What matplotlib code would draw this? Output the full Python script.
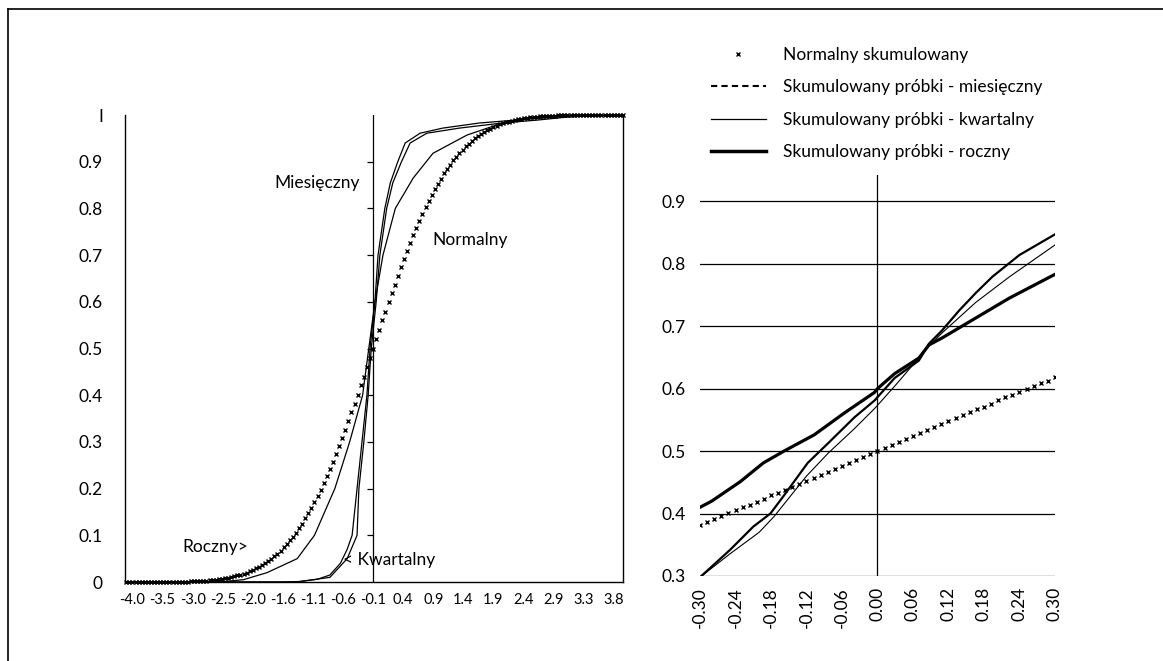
import numpy as np
import matplotlib
matplotlib.use("Agg")
from matplotlib import pyplot as plt
from matplotlib.lines import Line2D
from matplotlib.markers import TICKLEFT

plt.rcParams['font.family'] = ['Lato', 'DejaVu Sans']

# ---- left panel: cumulative distributions over the full range ----
left_x = np.round(np.arange(-4.1, 3.96, 0.05), 2)
left_normal = [
    0.000, 0.000, 0.000, 0.000, 0.000, 0.000, 0.000, 0.000, 0.000, 0.000,
    0.000, 0.000, 0.000, 0.000, 0.000, 0.001, 0.001, 0.001, 0.001, 0.001,
    0.001, 0.002, 0.002, 0.002, 0.003, 0.003, 0.003, 0.004, 0.005, 0.005,
    0.006, 0.007, 0.008, 0.009, 0.011, 0.012, 0.014, 0.016, 0.018, 0.020,
    0.023, 0.026, 0.029, 0.032, 0.036, 0.040, 0.045, 0.049, 0.055, 0.061,
    0.067, 0.074, 0.081, 0.089, 0.097, 0.106, 0.115, 0.125, 0.136, 0.147,
    0.159, 0.171, 0.184, 0.198, 0.212, 0.227, 0.242, 0.258, 0.274, 0.291,
    0.309, 0.326, 0.345, 0.363, 0.382, 0.401, 0.421, 0.440, 0.460, 0.480,
    0.500,
    0.520, 0.540, 0.560, 0.579, 0.599, 0.618, 0.637, 0.655, 0.674, 0.691,
    0.709, 0.726, 0.742, 0.758, 0.773, 0.788, 0.802, 0.816, 0.829, 0.841,
    0.853, 0.864, 0.875, 0.885, 0.894, 0.903, 0.911, 0.919, 0.926, 0.933,
    0.939, 0.945, 0.951, 0.955, 0.960, 0.964, 0.968, 0.971, 0.974, 0.977,
    0.980, 0.982, 0.984, 0.986, 0.988, 0.989, 0.991, 0.992, 0.993, 0.994,
    0.995, 0.995, 0.996, 0.997, 0.997, 0.997, 0.998, 0.998, 0.998, 0.999,
    0.999, 0.999, 0.999, 0.999, 0.999, 1.000, 1.000, 1.000, 1.000, 1.000,
    1.000, 1.000, 1.000, 1.000, 1.000, 1.000, 1.000, 1.000, 1.000, 1.000,
    1.000,
]
monthly_x = [-4.1, -1.6, -1.3, -1.0, -0.8, -0.63, -0.52, -0.44, -0.36, -0.28, -0.2, -0.15,
             -0.07, -0.02, 0.09, 0.18, 0.3, 0.42, 0.66, 1.03, 1.63, 2.2, 2.8, 3.3, 3.95]
monthly_y = [0.0, 0.0, 0.001, 0.006, 0.015, 0.04, 0.07, 0.1, 0.2, 0.3, 0.4, 0.5,
             0.6, 0.7, 0.8, 0.855, 0.9, 0.94, 0.961, 0.972, 0.983, 0.989, 0.995, 1.0, 1.0]
quarterly_x = [-4.1, -1.5, -1.28, -0.8, -0.52, -0.36, -0.33, -0.25, -0.18, -0.13, -0.05,
               0.01, 0.12, 0.22, 0.36, 0.5, 0.77, 1.3, 2.0, 2.55, 3.0, 3.6, 3.95]
quarterly_y = [0.0, 0.0, 0.001, 0.01, 0.05, 0.1, 0.2, 0.3, 0.4, 0.5, 0.6,
               0.7, 0.8, 0.855, 0.9, 0.94, 0.961, 0.972, 0.983, 0.989, 0.995, 1.0, 1.0]
yearly_x = [-4.1, -2.6, -2.2, -1.82, -1.33, -1.05, -0.72, -0.48, -0.27, -0.17, -0.1, -0.07,
            0.06, 0.26, 0.55, 0.87, 1.42, 2.0, 2.5, 2.9, 3.95]
yearly_y = [0.0, 0.0, 0.005, 0.02, 0.05, 0.1, 0.2, 0.3, 0.4, 0.5, 0.57, 0.6,
            0.7, 0.8, 0.865, 0.918, 0.957, 0.983, 0.995, 1.0, 1.0]
left_tick_labels = ['-4.0', '-3.5', '-3.0', '-2.5', '-2.0', '-1.6', '-1.1', '-0.6', '-0.1',
                    '0.4', '0.9', '1.4', '1.9', '2.4', '2.9', '3.3', '3.8']
left_ylabels = ['0', '0.1', '0.2', '0.3', '0.4', '0.5', '0.6', '0.7', '0.8', '0.9', 'I']

# ---- right panel: zoom around zero ----
right_x = np.round(np.arange(-0.3, 0.3001, 0.012), 3)
right_normal = [
    0.382, 0.387, 0.391, 0.396, 0.401, 0.405, 0.410, 0.414, 0.419, 0.424,
    0.429, 0.433, 0.438, 0.443, 0.447, 0.452, 0.457, 0.462, 0.467, 0.471,
    0.476, 0.481, 0.486, 0.490, 0.495, 0.500,
    0.505, 0.510, 0.514, 0.519, 0.524, 0.529, 0.533, 0.538, 0.543, 0.548,
    0.553, 0.557, 0.562, 0.567, 0.571, 0.576, 0.581, 0.586, 0.590, 0.595,
    0.599, 0.604, 0.609, 0.613, 0.618,
]
r_monthly_x = [-0.3, -0.249, -0.21, -0.181, -0.158, -0.118, -0.083, -0.039, -0.005,
               0.029, 0.07, 0.087, 0.109, 0.138, 0.166, 0.194, 0.24, 0.3]
r_monthly_y = [0.298, 0.342, 0.379, 0.40, 0.429, 0.481, 0.513, 0.554, 0.581,
               0.617, 0.645, 0.672, 0.693, 0.725, 0.753, 0.779, 0.814, 0.847]
r_quarterly_x = [-0.3, -0.25, -0.2, -0.175, -0.12, -0.083, -0.04, -0.005, 0.03, 0.087,
                 0.109, 0.166, 0.223, 0.3]
r_quarterly_y = [0.298, 0.335, 0.37, 0.395, 0.46, 0.497, 0.535, 0.568, 0.605, 0.668,
                 0.689, 0.738, 0.779, 0.83]
r_yearly_x = [-0.3, -0.28, -0.232, -0.193, -0.158, -0.107, -0.056, -0.005, 0.0, 0.029,
              0.07, 0.087, 0.109, 0.166, 0.223, 0.3]
r_yearly_y = [0.41, 0.42, 0.451, 0.481, 0.50, 0.526, 0.561, 0.594, 0.60, 0.624,
              0.649, 0.67, 0.681, 0.713, 0.745, 0.783]
right_tick_labels = ['-0.30', '-0.24', '-0.18', '-0.12', '-0.06', '0.00',
                     '0.06', '0.12', '0.18', '0.24', '0.30']
right_ylabels = ['0.3', '0.4', '0.5', '0.6', '0.7', '0.8', '0.9']

legend_labels = ['Normalny skumulowany', 'Skumulowany próbki - miesięczny',
                 'Skumulowany próbki - kwartalny', 'Skumulowany próbki - roczny']

fig = plt.figure(figsize=(11.63, 6.61), dpi=100)

# outer frame (top and left edges)
fig.add_artist(Line2D([8/1163, 1], [1 - 9/661, 1 - 9/661], color='black', lw=1.2))
fig.add_artist(Line2D([8/1163, 8/1163], [0, 1 - 9/661], color='black', lw=1.2))

# ---------------- left panel ----------------
ax = fig.add_axes([0.1075, 0.1195, 0.4282, 0.7065])
ax.plot(left_x, left_normal, linestyle='none', marker='x', ms=3.3, mew=1.0,
        color='black', clip_on=False)
ax.plot(monthly_x, monthly_y, color='black', lw=0.9)
ax.plot(quarterly_x, quarterly_y, color='black', lw=0.9)
ax.plot(yearly_x, yearly_y, color='black', lw=0.9)
ax.axvline(-0.1, color='black', lw=0.9)
yt = [0.1, 0.2, 0.3, 0.4, 0.5, 0.6, 0.7, 0.8, 0.9]
ax.plot([-0.1] * len(yt), yt, linestyle='none', marker=TICKLEFT, ms=4, mew=0.9, color='black')

ax.set_xlim(-4.12, 3.95)
ax.set_ylim(0, 1)
ax.set_xticks(np.linspace(-4.0, 3.8, 17))
ax.set_xticklabels(left_tick_labels, fontsize=10.5)
ax.set_yticks(np.linspace(0, 1, 11))
ax.set_yticklabels(left_ylabels, fontsize=12.5)
ax.tick_params(axis='both', length=0)
ax.tick_params(axis='y', pad=16)
ax.tick_params(axis='x', pad=8)
ax.spines['top'].set_visible(False)
for s in ['left', 'bottom', 'right']:
    ax.spines[s].set_linewidth(1.0)

ax.text(-0.31, 0.854, 'Miesięczny', fontsize=12.5, ha='right', va='center')
ax.text(0.86, 0.732, 'Normalny', fontsize=12.5, ha='left', va='center')
ax.text(-2.13, 0.075, 'Roczny>', fontsize=12.5, ha='right', va='center')
ax.text(-0.59, 0.047, '< Kwartalny', fontsize=12.5, ha='left', va='center')

# ---------------- right panel ----------------
ax2 = fig.add_axes([0.6019, 0.1286, 0.3052, 0.6066])
for g in [0.3, 0.4, 0.5, 0.6, 0.7, 0.8, 0.9]:
    ax2.axhline(g, color='black', lw=0.9, zorder=1)
ax2.axvline(0.0, color='black', lw=0.9, zorder=1)
ax2.plot(right_x, right_normal, linestyle='none', marker='x', ms=3.3, mew=1.0,
         color='black', zorder=3)
ax2.plot(r_monthly_x, r_monthly_y, color='black', lw=1.6, zorder=3)
ax2.plot(r_quarterly_x, r_quarterly_y, color='black', lw=0.8, zorder=3)
ax2.plot(r_yearly_x, r_yearly_y, color='black', lw=2.3, zorder=3)

ax2.set_xlim(-0.3, 0.3)
ax2.set_ylim(0.3, 0.942)
ax2.set_xticks(np.linspace(-0.3, 0.3, 11))
ax2.set_xticklabels(right_tick_labels, rotation=90, fontsize=12.5)
ax2.set_yticks(np.linspace(0.3, 0.9, 7))
ax2.set_yticklabels(right_ylabels, fontsize=12.5)
ax2.tick_params(axis='both', length=0)
ax2.tick_params(axis='y', pad=10)
ax2.tick_params(axis='x', pad=8)
for s in ax2.spines.values():
    s.set_visible(False)

handles = [
    Line2D([], [], linestyle='none', marker='x', ms=3.3, mew=1.0, color='black'),
    Line2D([], [], color='black', lw=1.5, linestyle=(0, (3, 2))),
    Line2D([], [], color='black', lw=0.9),
    Line2D([], [], color='black', lw=2.5),
]
fig.legend(handles, legend_labels, loc='upper left', bbox_to_anchor=(0.605, 0.94),
           frameon=False, fontsize=12.5, handlelength=3.2, handletextpad=1.0,
           labelspacing=0.95, borderaxespad=0)

plt.savefig('out.png', dpi=100)
